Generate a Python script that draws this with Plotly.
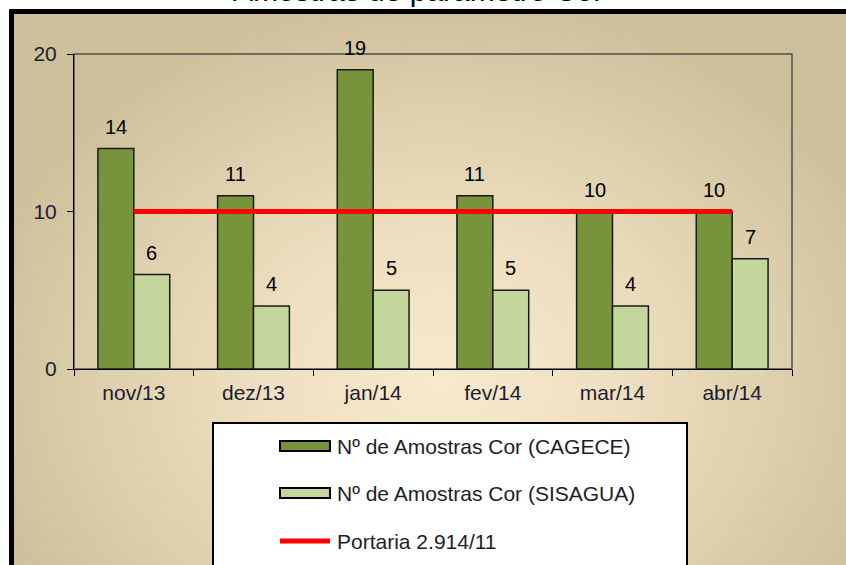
import base64
import plotly.graph_objects as go

# ---- data ----
categories = ["nov/13", "dez/13", "jan/14", "fev/14", "mar/14", "abr/14"]
cagece = [14, 11, 19, 11, 10, 10]
sisagua = [6, 4, 5, 5, 4, 7]
portaria = [10, 10, 10, 10, 10, 10]
series_names = ["Nº de Amostras Cor (CAGECE)", "Nº de Amostras Cor (SISAGUA)", "Portaria 2.914/11"]
title_text = "Amostras de parâmetro Cor"

# ---- geometry helpers (pixel -> paper) ----
W, H = 846, 565
L, R, T, B = 74, 54, 54, 196
PW, PH = W - L - R, H - T - B


def px(x):
    return (x - L) / PW


def py(y):
    return (H - B - y) / PH


DARK = "#77933c"
LIGHT = "#c3d69b"
RED = "#ff0000"
TXT = "#1c1c2e"
FONT = "Arial, Liberation Sans, sans-serif"

svg = f"""<svg xmlns='http://www.w3.org/2000/svg' width='{W}' height='{H}' viewBox='0 0 {W} {H}' preserveAspectRatio='none'>
<defs><radialGradient id='g' gradientUnits='userSpaceOnUse' cx='440' cy='380' r='480' gradientTransform='translate(0,76) scale(1,0.8)'>
<stop offset='0' stop-color='#f7e9cc'/><stop offset='0.35' stop-color='#efe0c1'/><stop offset='1' stop-color='#cfc09c'/>
</radialGradient></defs>
<rect width='{W}' height='{H}' fill='white'/>
<rect x='11.5' y='11.5' width='900' height='700' fill='url(#g)' stroke='black' stroke-width='5'/>
</svg>"""
src = "data:image/svg+xml;base64," + base64.b64encode(svg.encode()).decode()

fig = go.Figure()
fig.add_trace(go.Bar(x=categories, y=cagece, name=series_names[0], marker=dict(color=DARK, line=dict(color="#1a1a1a", width=1.5)), showlegend=False))
fig.add_trace(go.Bar(x=categories, y=sisagua, name=series_names[1], marker=dict(color=LIGHT, line=dict(color="#1a1a1a", width=1.5)), showlegend=False))
fig.add_trace(go.Scatter(x=categories, y=portaria, name=series_names[2], mode="lines", line=dict(color=RED, width=5), showlegend=False))

annotations = []
for c, v in zip(categories, cagece):
    annotations.append(dict(x=c, y=v, xref="x", yref="y", text=str(v), showarrow=False, xshift=-18, yshift=22,
                            font=dict(size=20, color="black", family=FONT)))
for c, v in zip(categories, sisagua):
    annotations.append(dict(x=c, y=v, xref="x", yref="y", text=str(v), showarrow=False, xshift=18, yshift=22,
                            font=dict(size=20, color="black", family=FONT)))

# title (mostly outside the view, as in the reference)
annotations.append(dict(x=px(418), y=py(8.5), xref="paper", yref="paper", text=title_text, showarrow=False,
                        xanchor="center", yanchor="bottom", font=dict(size=30, color="black", family=FONT)))

# custom legend
shapes = [
    dict(type="rect", xref="paper", yref="paper", x0=0, x1=1, y0=0, y1=1, line=dict(color="#4d4d4d", width=1.5), layer="below"),
    dict(type="rect", xref="paper", yref="paper", x0=px(213), x1=px(687), y0=py(423), y1=py(620),
         fillcolor="white", line=dict(color="black", width=2)),
    dict(type="rect", xref="paper", yref="paper", x0=px(280), x1=px(330), y0=py(441), y1=py(451),
         fillcolor=DARK, line=dict(color="black", width=2)),
    dict(type="rect", xref="paper", yref="paper", x0=px(280), x1=px(330), y0=py(488), y1=py(498),
         fillcolor=LIGHT, line=dict(color="black", width=2)),
    dict(type="line", xref="paper", yref="paper", x0=px(280), x1=px(330), y0=py(541), y1=py(541),
         line=dict(color=RED, width=5)),
]
for name, yy in zip(series_names, [446, 493, 541]):
    annotations.append(dict(x=px(335), y=py(yy), xref="paper", yref="paper", text=name, showarrow=False,
                            xanchor="left", yanchor="middle", font=dict(size=21, color=TXT, family=FONT)))

fig.update_layout(
    width=W, height=H,
    margin=dict(l=L, r=R, t=T, b=B),
    paper_bgcolor="white",
    plot_bgcolor="rgba(0,0,0,0)",
    barmode="group", bargap=0.4, bargroupgap=0,
    showlegend=False,
    font=dict(family=FONT, size=21, color=TXT),
    images=[dict(source=src, xref="paper", yref="paper", x=px(0), y=py(0), sizex=W / PW, sizey=H / PH,
                 xanchor="left", yanchor="top", sizing="stretch", layer="below")],
    shapes=shapes,
    annotations=annotations,
)
fig.update_xaxes(showgrid=False, zeroline=False, showline=True, linecolor="black", linewidth=1,
                 ticks="outside", tickson="boundaries", ticklen=6, tickcolor="black",
                 tickfont=dict(size=21, color=TXT, family=FONT), ticklabelstandoff=5)
fig.update_yaxes(range=[0, 20], tickvals=[0, 10, 20], showgrid=False, zeroline=False, showline=True,
                 linecolor="black", linewidth=1, ticks="outside", ticklen=6, tickcolor="black",
                 tickfont=dict(size=21, color=TXT, family=FONT), ticklabelstandoff=6)

fig.write_html("out.html", config={"displayModeBar": False},
               post_script="document.body.style.margin='0px';")
